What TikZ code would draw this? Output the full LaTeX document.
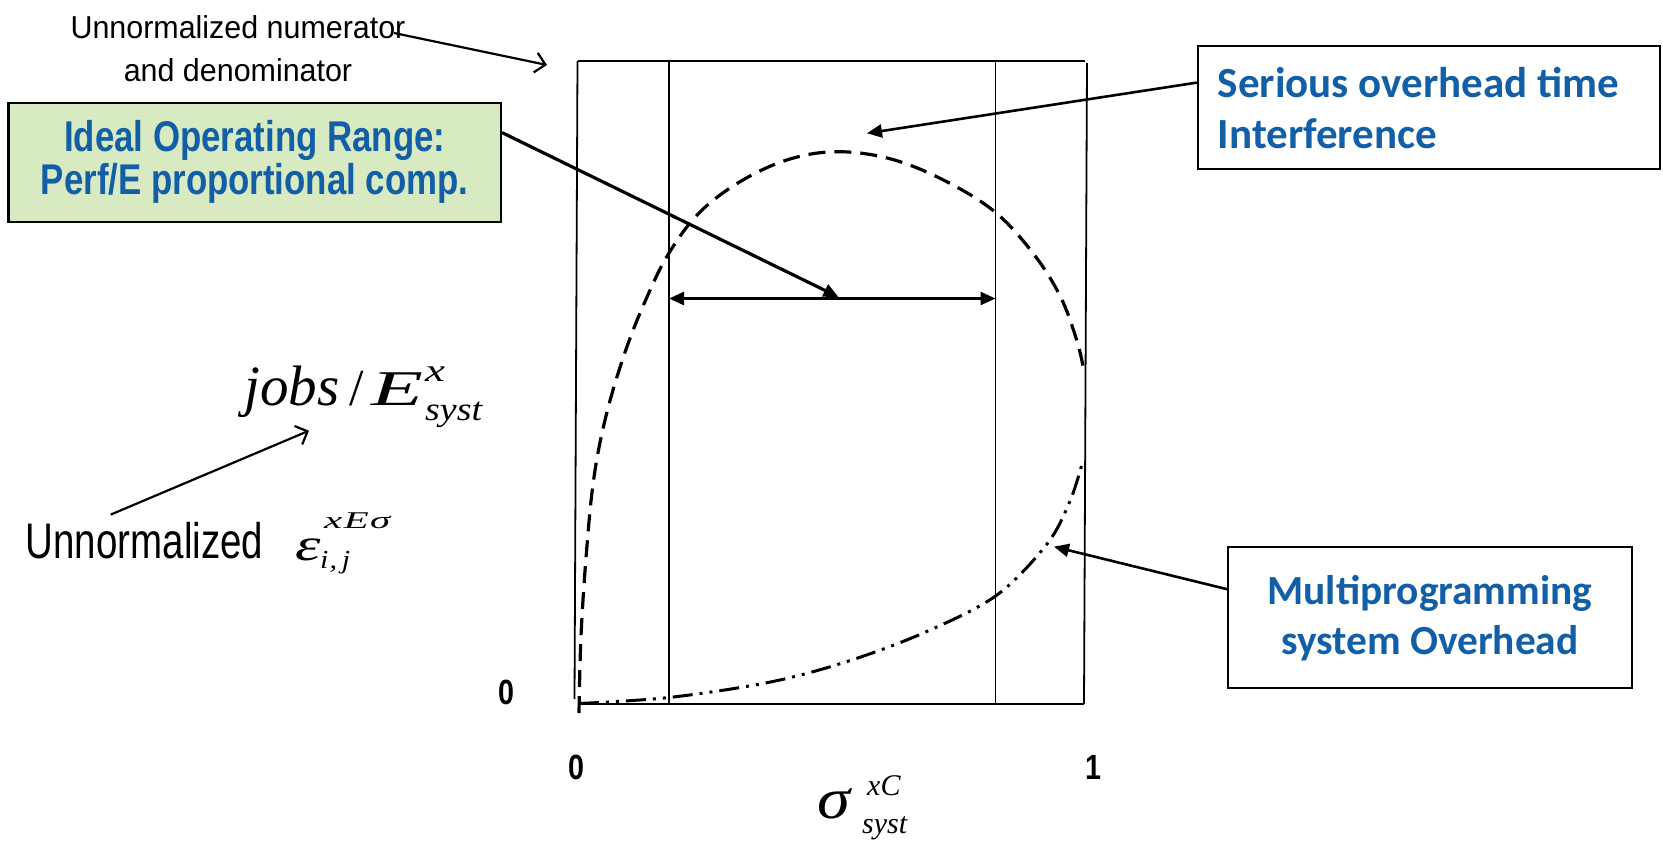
\documentclass[tikz,border=0pt]{standalone}
\usepackage{fontspec}
\setmainfont{Liberation Sans}
\newfontfamily\arialTop[FakeStretch=0.96]{Liberation Sans}
\newfontfamily\arialLeft[FakeStretch=0.77]{Liberation Sans}
\newfontfamily\arialBox[FakeStretch=0.81]{Liberation Sans}
\newfontfamily\arialN[FakeStretch=0.82]{Liberation Sans}
\newfontfamily\calib{Carlito}
\newfontfamily\tnr{Liberation Serif}
\newfontfamily\tnrM[FakeStretch=1.15]{Liberation Serif}
\newfontfamily\tnrW[FakeStretch=1.4]{Liberation Serif}
\newfontfamily\tnrE[FakeStretch=1.7]{Liberation Serif}
\usetikzlibrary{arrows.meta,calc}
\definecolor{txtblue}{RGB}{18,95,168}
\definecolor{boxgreen}{RGB}{215,234,193}
\newcommand\fsz[2]{\fontsize{#1}{#2}\selectfont}
\newcommand\nsp{\spaceskip=\fontdimen2\font\relax}
\begin{document}
\begin{tikzpicture}[x=1pt,y=-1pt,
  frameline/.style={line width=1.8pt},
  bx/.style={draw, line width=2.2pt, inner sep=0pt},
  tri/.style={line width=2.6pt, -{Triangle[length=15pt,width=13pt]}},
  barb/.style={line width=2.2pt, -{Straight Barb[length=10pt,width=20pt]}},
  lbl/.style={inner sep=0pt, anchor=base west},
  axnum/.style={inner sep=0pt, font=\arialN\bfseries\fsz{35}{35}},
  dashcurve/.style={line width=3.2pt, dash pattern=on 17pt off 9pt},
  dotcurve/.style={line width=3pt, dash pattern=on 20pt off 7pt on 3pt off 7pt on 3pt off 7pt},
]
\path[use as bounding box, fill=white] (0,0) rectangle (1663,844);

% frame
\coordinate (fTL) at (577.5,61);
\coordinate (fTR) at (1085,61);
\coordinate (fRT) at (1087,63);
\coordinate (fBR) at (1084,704);
\coordinate (fBL) at (578,704);
\coordinate (fLB) at (574.5,699);
\coordinate (iLT) at (669,61);
\coordinate (iLB) at (669,704);
\coordinate (iRT) at (995.5,61);
\coordinate (iRB) at (995.5,704);
\draw[frameline] (fTL) -- (fTR);
\draw[frameline] (fRT) -- (fBR);
\draw[frameline] (fBL) -- (fBR);
\draw[frameline] (fTL) -- (fLB);
\draw[frameline] (iLT) -- (iLB);
\draw[frameline] (iRT) -- (iRB);

% curves
\draw[dashcurve] plot[smooth, tension=0.6] coordinates {(579,713) (581,636) (586.5,551.5) (594,477) (606.6,413.6) (625.8,350) (647,297) (669,253) (700,212) (742.4,180.3) (790,159) (838,151.7) (891,159) (944,180.3) (995,212) (1034,254.5) (1060.6,297) (1076.5,339.4) (1083,366)};
\draw[dotcurve] plot[smooth, tension=0.55] coordinates {(579,703.5) (669,697.5) (768,682.5) (844,662.5) (921,634) (995.6,596) (1047,544) (1070,501) (1082,464)};

% range arrow
\coordinate (rngL) at (669,298.5);
\coordinate (rngR) at (995.5,298.5);
\draw[line width=2.6pt, {Triangle[length=15pt,width=13pt]}-{Triangle[length=15pt,width=13pt]}] (rngL) -- (rngR);

% text nodes
\node[font=\arialTop\fsz{31.7}{42.4}, align=center, inner sep=0pt] (unnum) at (238,48.5) {\nsp Unnormalized numerator\\\nsp and denominator};

\node[bx, fill=boxgreen, minimum width=492.6pt, minimum height=119pt, font=\arialBox\bfseries\fsz{43}{43}, text=txtblue, align=center] (ideal) at (254.7,162.2) {\nsp Ideal Operating Range:\\\nsp Perf/E proportional comp.};

\node[bx, minimum height=123.3pt, text width=422pt, inner xsep=20pt, align=left, font=\calib\bfseries\fsz{43}{51}, text=txtblue] (serious) at (1428.9,107.7) {\nsp Serious overhead time\\\nsp Interference};

\node[bx, minimum width=403.7pt, minimum height=141pt, font=\calib\bfseries\fsz{41.4}{50}, text=txtblue, align=center] (multi) at (1429.9,617.8) {\nsp Multiprogramming\\\nsp system Overhead};

% jobs / E^x_syst
\node[lbl, font=\tnr\itshape\fsz{57}{57}] (jobs) at (244,405) {jobs};
\node[lbl, font=\tnr\fsz{52}{52}] (slash) at (349,405) {/};
\node[lbl, font=\tnrE\itshape\fsz{50}{50}] (bigE) at (371,405) {E};
\node[lbl, font=\tnrW\itshape\fsz{32}{32}] (Esup) at (425,381) {x};
\node[lbl, font=\tnrM\itshape\fsz{33}{33}] (Esub) at (425,420) {syst};

% Unnormalized epsilon
\node[lbl, font=\arialLeft\fsz{50}{50}] (unn) at (25.5,558) {Unnormalized};
\node[lbl, font=\tnrW\itshape\fsz{46}{46}] (eps) at (295,560) {ε};
\node[lbl, font=\tnrE\itshape\fsz{24}{24}] (epssup) at (324,528) {x\kern1.5pt E\kern1.5pt σ};
\node[lbl, font=\tnrM\itshape\fsz{26}{26}] (epssub) at (320,568) {i\kern1pt,\kern5pt j};

% sigma
\node[lbl, font=\tnrM\itshape\fsz{58}{58}, text height=26pt, text depth=0pt] (sig) at (817,818) {σ};
\node[lbl, font=\tnr\itshape\fsz{30}{30}, text height=20pt, text depth=0pt] (sigsup) at (867,795) {xC};
\node[lbl, font=\tnr\itshape\fsz{30}{30}] (sigsub) at (862,833.3) {syst};

% axis numbers
\node[axnum] (y0) at (506,692.5) {0};
\node[axnum] (x0) at (576,767.5) {0};
\node[axnum] (x1) at (1093,767.5) {1};

% connectors
\coordinate (idealTip) at (838.5,297);
\draw[tri, line width=3.2pt] ($(ideal.north east)!0.256!(ideal.south east)$) -- (idealTip);
\coordinate (serTip) at (867,133.3);
\draw[tri] ($(serious.north west)!0.3!(serious.south west)$) -- (serTip);
\coordinate (mulTip) at (1054,546.7);
\draw[tri] ($(multi.north west)!0.3!(multi.south west)$) -- (mulTip);
\coordinate (numFrom) at (394,33);
\coordinate (numTip) at (547,65);
\draw[barb] (numFrom) -- (numTip);
\coordinate (unnFrom) at (110.7,514.6);
\coordinate (unnTip) at (309,430.7);
\draw[barb] (unnFrom) -- (unnTip);
\end{tikzpicture}
\end{document}
